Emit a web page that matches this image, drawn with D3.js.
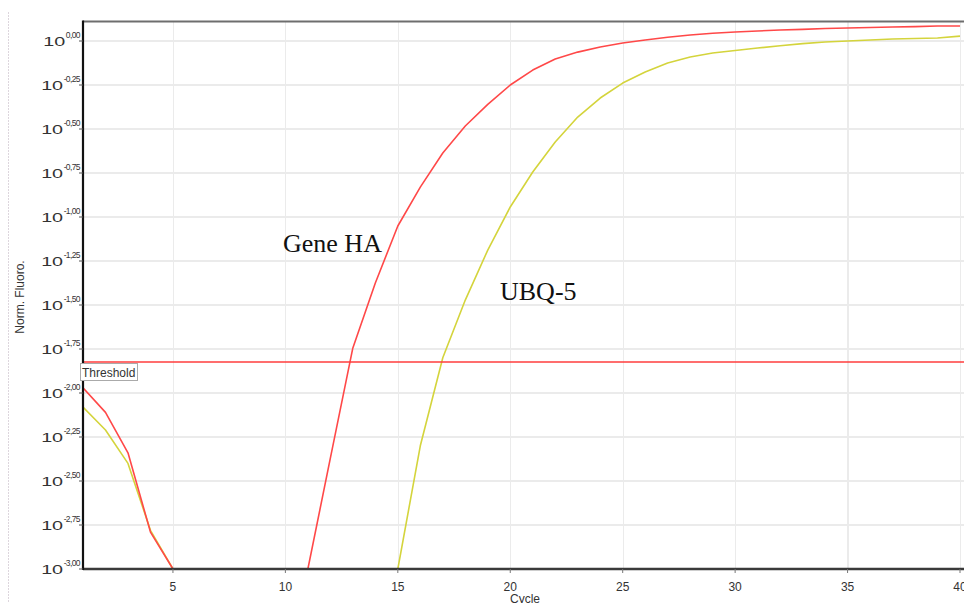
<html>
  <body style="margin:0;background:#fff;">
    <style>
      .grid line { stroke: #ebebeb; stroke-width: 1.2px; shape-rendering: crispEdges; }
      .grid path { stroke-width: 0; }
      .tick-label { font-family: "Liberation Sans", Arial, sans-serif; fill: #333; }
      .curve { fill: none; stroke-width: 1.6px; stroke-linejoin: round; }
      .annot { font-family: "Liberation Serif", "Times New Roman", serif; font-size: 26px; fill: #111; }
    </style>
    <div class="post-content"></div>
    <script src="https://d3js.org/d3.v7.min.js"></script>
    <script type="text/javascript">
      // cycles 1..40
      var cycles = d3.range(1, 41);

      // log10 of normalised fluorescence (null = below 10^-3)
      var geneHA = [-1.97, -2.11, -2.34, -2.79, -3.0, null, null, null, null, null,
        -3.0, -2.37, -1.744, -1.375, -1.051, -0.830, -0.636, -0.483, -0.360, -0.250,
        -0.165, -0.102, -0.063, -0.034, -0.011, 0.006, 0.021, 0.034, 0.044, 0.051,
        0.057, 0.0625, 0.066, 0.071, 0.074, 0.077, 0.080, 0.082, 0.085, 0.085];

      var ubq5 = [-2.08, -2.21, -2.40, -2.78, -3.0, null, null, null, null, null,
        null, null, null, null, -3.0, -2.30, -1.80, -1.472, -1.188, -0.943,
        -0.744, -0.574, -0.432, -0.324, -0.239, -0.176, -0.125, -0.091, -0.068, -0.054,
        -0.040, -0.027, -0.015, -0.006, 0.0, 0.006, 0.011, 0.014, 0.017, 0.028];

      var thresholdExp = -1.824;
      var yTickExps = [0, -0.25, -0.5, -0.75, -1, -1.25, -1.5, -1.75, -2, -2.25, -2.5, -2.75, -3];
      var xTicks = [5, 10, 15, 20, 25, 30, 35, 40];

      function autorun() {
        var W = 964, H = 603,
          left = 83, top = 22, bottom = 569, right = 964;

        var svg = d3.select(".post-content").append("svg")
          .attr("width", W)
          .attr("height", H)
          .style("display", "block");

        var x = d3.scaleLinear().domain([1, 40]).range([left, 960]);
        var y = d3.scaleLog().domain([Math.pow(10, -3), Math.pow(10, 0.108)]).range([bottom, top]);

        // faint dotted line at the far left
        svg.append("line")
          .attr("x1", 8.5).attr("x2", 8.5)
          .attr("y1", 12).attr("y2", H)
          .attr("stroke", "#ddd6dd")
          .attr("stroke-dasharray", "2,1");

        svg.append("defs").append("clipPath").attr("id", "plot")
          .append("rect")
          .attr("x", left).attr("y", top)
          .attr("width", right - left).attr("height", bottom - top);

        // vertical gridlines
        svg.append("g")
          .attr("class", "grid")
          .attr("transform", "translate(0," + bottom + ")")
          .call(d3.axisBottom(x).tickValues(xTicks).tickSize(-(bottom - top)).tickFormat(""));

        // horizontal gridlines
        var hg = svg.append("g").attr("class", "grid");
        hg.selectAll("line")
          .data(yTickExps)
          .enter().append("line")
          .attr("x1", left).attr("x2", right)
          .attr("y1", function(d) { return y(Math.pow(10, d)); })
          .attr("y2", function(d) { return y(Math.pow(10, d)); });

        var line = d3.line()
          .defined(function(d) { return d.v != null; })
          .x(function(d) { return x(d.c); })
          .y(function(d) { return y(Math.pow(10, d.v)); });

        var plot = svg.append("g").attr("clip-path", "url(#plot)");

        function series(vals) {
          return cycles.map(function(c, i) { return {c: c, v: vals[i]}; });
        }

        plot.append("path")
          .datum(series(ubq5))
          .attr("class", "curve")
          .attr("stroke", "#d4d43c")
          .attr("d", line);

        plot.append("path")
          .datum(series(geneHA))
          .attr("class", "curve")
          .attr("stroke", "#ff4848")
          .attr("d", line);

        // threshold
        svg.append("line")
          .attr("x1", left).attr("x2", right)
          .attr("y1", y(Math.pow(10, thresholdExp)))
          .attr("y2", y(Math.pow(10, thresholdExp)))
          .attr("stroke", "#ff3c3c")
          .attr("stroke-width", 1.6);

        // frame
        svg.append("line")
          .attr("x1", left).attr("x2", right).attr("y1", top - 0.5).attr("y2", top - 0.5)
          .attr("stroke", "#6e6e6e").attr("stroke-width", 2);
        svg.append("line")
          .attr("x1", left).attr("x2", right).attr("y1", bottom).attr("y2", bottom)
          .attr("stroke", "#3a3a3a").attr("stroke-width", 2.5);
        svg.append("line")
          .attr("x1", left).attr("x2", left).attr("y1", top - 1.5).attr("y2", bottom + 1)
          .attr("stroke", "#111").attr("stroke-width", 2.2);

        // y tick marks and labels
        var yt = svg.append("g");
        yt.selectAll("line")
          .data(yTickExps)
          .enter().append("line")
          .attr("x1", left - 4).attr("x2", left)
          .attr("y1", function(d) { return y(Math.pow(10, d)); })
          .attr("y2", function(d) { return y(Math.pow(10, d)); })
          .attr("stroke", "#555");

        // superscript exponent, right-aligned next to the axis
        yt.selectAll("text.sup")
          .data(yTickExps)
          .enter().append("text")
          .attr("class", "tick-label sup")
          .attr("text-anchor", "end")
          .attr("x", 80)
          .attr("y", function(d) { return y(Math.pow(10, d)) - 3; })
          .style("font-size", "8.5px")
          .style("letter-spacing", "-0.6px")
          .text(function(d) { return d.toFixed(2).replace(".", ","); })
          .each(function(d) { d3.select(this).attr("data-w", this.getComputedTextLength()); });

        // wide "10" base in front of each exponent
        yt.selectAll("text.sup").each(function(d) {
          var w = +d3.select(this).attr("data-w");
          yt.append("text")
            .attr("class", "tick-label")
            .attr("text-anchor", "end")
            .attr("x", 80 - w - 0.5)
            .attr("y", y(Math.pow(10, d)) + 5)
            .attr("textLength", 22)
            .attr("lengthAdjust", "spacingAndGlyphs")
            .style("font-size", "13px")
            .text("10");
        });

        // x tick marks and labels
        var xt = svg.append("g");
        xt.selectAll("line")
          .data(xTicks)
          .enter().append("line")
          .attr("x1", function(d) { return x(d); })
          .attr("x2", function(d) { return x(d); })
          .attr("y1", bottom).attr("y2", bottom + 4)
          .attr("stroke", "#777");
        xt.selectAll("text")
          .data(xTicks)
          .enter().append("text")
          .attr("class", "tick-label")
          .attr("text-anchor", "middle")
          .attr("x", function(d) { return x(d); })
          .attr("y", 591)
          .style("font-size", "12px")
          .text(function(d) { return d; });

        // axis titles
        svg.append("text")
          .attr("class", "tick-label")
          .attr("text-anchor", "middle")
          .attr("x", 525).attr("y", 603)
          .style("font-size", "12px")
          .text("Cycle");
        svg.append("text")
          .attr("class", "tick-label")
          .attr("text-anchor", "middle")
          .attr("transform", "translate(24,297) rotate(-90)")
          .style("font-size", "12px")
          .text("Norm. Fluoro.");

        // threshold label box
        var tb = svg.append("g");
        tb.append("rect")
          .attr("x", 80.5).attr("y", 363.5)
          .attr("width", 57).attr("height", 17)
          .attr("fill", "#fff")
          .attr("stroke", "#aaa");
        tb.append("text")
          .attr("class", "tick-label")
          .attr("x", 82).attr("y", 377)
          .style("font-size", "12px")
          .text("Threshold");

        // curve annotations
        svg.append("text").attr("class", "annot").attr("x", 283).attr("y", 252).text("Gene HA");
        svg.append("text").attr("class", "annot").attr("x", 500).attr("y", 300).text("UBQ-5");
      }
      if (window.addEventListener) window.addEventListener("load", autorun, false);
      else window.onload = autorun;
    </script>
  </body>
</html>
